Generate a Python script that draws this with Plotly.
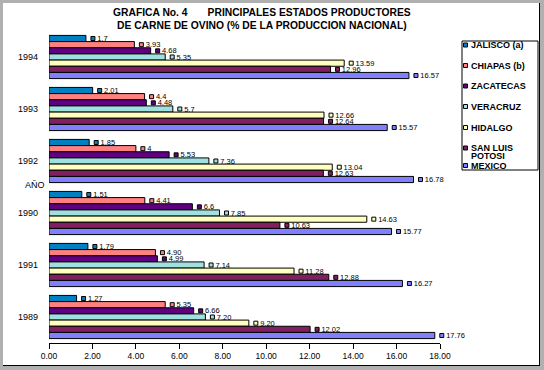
import plotly.graph_objects as go

# ---------------- data ----------------
years = ["1994", "1993", "1992", "1990", "1991", "1989"]          # top to bottom
year_label_format = ["general", "general", "general", "general", "0.00", "0.00"]

series_names = ["JALISCO (a)", "CHIAPAS (b)", "ZACATECAS", "VERACRUZ",
                "HIDALGO", "SAN LUIS POTOSI", "MEXICO"]
jalisco = [1.7, 2.01, 1.85, 1.51, 1.79, 1.27]
chiapas = [3.93, 4.4, 4.0, 4.41, 4.90, 5.35]
zacatecas = [4.68, 4.48, 5.53, 6.6, 4.99, 6.66]
veracruz = [5.35, 5.7, 7.36, 7.85, 7.14, 7.20]
hidalgo = [13.59, 12.66, 13.04, 14.63, 11.28, 9.20]
san_luis_potosi = [12.96, 12.64, 12.63, 10.63, 12.88, 12.02]
mexico = [16.57, 15.57, 16.78, 15.77, 16.27, 17.76]
series_values = [jalisco, chiapas, zacatecas, veracruz, hidalgo, san_luis_potosi, mexico]

x_tick_values = [0, 2, 4, 6, 8, 10, 12, 14, 16, 18]

title_line1 = "GRAFICA No. 4" + "\u00a0" * 7 + "PRINCIPALES ESTADOS PRODUCTORES"
title_line2 = "DE CARNE DE OVINO (% DE LA PRODUCCION NACIONAL)"
y_title = "AÑO"

# ---------------- style ----------------
colors = ["#0080C0", "#FF8080", "#600080", "#A0E0E0", "#FFFFC0", "#802060", "#8080FF"]
W, H = 544, 370
L, R, T, B = 49, 104, 31, 27
PW, PH = W - L - R, H - T - B
FONT = "Liberation Sans, Arial, sans-serif"


def px2x(px):
    return (px - L) / PW


def px2y(py):
    return (H - B - py) / PH


def fmt(v, f):
    return f"{v:.2f}" if f == "0.00" else f"{v:g}"


fig = go.Figure()
for name, vals, col in zip(series_names, series_values, colors):
    labels = ["\u00a0" * 4 + fmt(v, f) for v, f in zip(vals, year_label_format)]
    fig.add_trace(go.Bar(
        name=name, y=years, x=vals, orientation="h",
        marker=dict(color=col, line=dict(color="black", width=1)),
        text=labels, textposition="outside", constraintext="none",
        textfont=dict(family=FONT, size=7.5, color="black"),
        cliponaxis=False, showlegend=False, hoverinfo="skip",
    ))
for name, vals, col in zip(series_names, series_values, colors):
    fig.add_trace(go.Scatter(
        y=years, x=vals, orientation="h", mode="markers",
        marker=dict(symbol="square", size=4, color=col, angle=-90, standoff=7,
                    line=dict(color="black", width=1)),
        cliponaxis=False, showlegend=False, hoverinfo="skip",
    ))

shapes = [
    dict(type="rect", xref="paper", yref="paper", layer="below",
         x0=px2x(3), x1=px2x(540), y0=px2y(3), y1=px2y(366),
         fillcolor="white", line=dict(width=0)),
    dict(type="line", xref="paper", yref="paper",
         x0=px2x(539.5), x1=px2x(539.5), y0=px2y(3), y1=px2y(366),
         line=dict(color="black", width=1)),
    dict(type="line", xref="paper", yref="paper",
         x0=px2x(3), x1=px2x(540), y0=px2y(365.5), y1=px2y(365.5),
         line=dict(color="black", width=1)),
    # legend box
    dict(type="rect", xref="paper", yref="paper",
         x0=px2x(462), x1=px2x(538), y0=px2y(41), y1=px2y(170),
         fillcolor="white", line=dict(color="black", width=1)),
]
annotations = [
    dict(text=y_title, xref="paper", yref="paper", x=px2x(23), y=px2y(185),
         showarrow=False, font=dict(family=FONT, size=9, color="black")),
]
for line_text, ly in zip([title_line1, title_line2], [13, 25]):
    annotations.append(dict(text=line_text, xref="paper", yref="paper",
                            x=px2x(262), y=px2y(ly), xanchor="center", yanchor="middle",
                            showarrow=False,
                            font=dict(family=FONT, size=10.3, color="black", weight="bold")))

# custom legend
legend_rows = [[n] if n != "SAN LUIS POTOSI" else ["SAN LUIS", "POTOSI"] for n in series_names]
legend_y = [45, 65.5, 86, 106.5, 127.5, 148, 165.5]
for rows, col, ly in zip(legend_rows, colors, legend_y):
    shapes.append(dict(type="rect", xref="paper", yref="paper",
                       x0=px2x(463.5), x1=px2x(467.5), y0=px2y(ly - 2), y1=px2y(ly + 2),
                       fillcolor=col, line=dict(color="black", width=1)))
    for k, row in enumerate(rows):
        annotations.append(dict(text=row, xref="paper", yref="paper",
                                x=px2x(469), y=px2y(ly + k * 8), xanchor="left", yanchor="middle",
                                showarrow=False,
                                font=dict(family=FONT, size=9, color="black", weight="bold")))

fig.update_layout(
    template="none",
    width=W, height=H,
    margin=dict(l=L, r=R, t=T, b=B, pad=0, autoexpand=False),
    paper_bgcolor="#B0B0B0", plot_bgcolor="white",
    barmode="group", bargap=0.17, bargroupgap=0,
    scattermode="group", scattergap=0.17,
    showlegend=False,
    xaxis=dict(range=[0, 18], tickvals=x_tick_values, tickformat=".2f", automargin=False,
               showgrid=False, zeroline=False, showline=True, linecolor="black", linewidth=1,
               ticks="outside", ticklen=5, tickcolor="black", tickwidth=1,
               tickfont=dict(family=FONT, size=8.5, color="black")),
    yaxis=dict(type="category", categoryorder="array", categoryarray=years, automargin=False,
               autorange="reversed", showgrid=False, zeroline=False, showline=False,
               ticks="", ticklabelstandoff=10,
               tickfont=dict(family=FONT, size=9, color="black")),
    shapes=shapes, annotations=annotations,
)

fig.write_html("out.html",
               config={"displayModeBar": False, "staticPlot": True},
               post_script="document.body.style.margin='0';document.body.style.overflow='hidden';")
